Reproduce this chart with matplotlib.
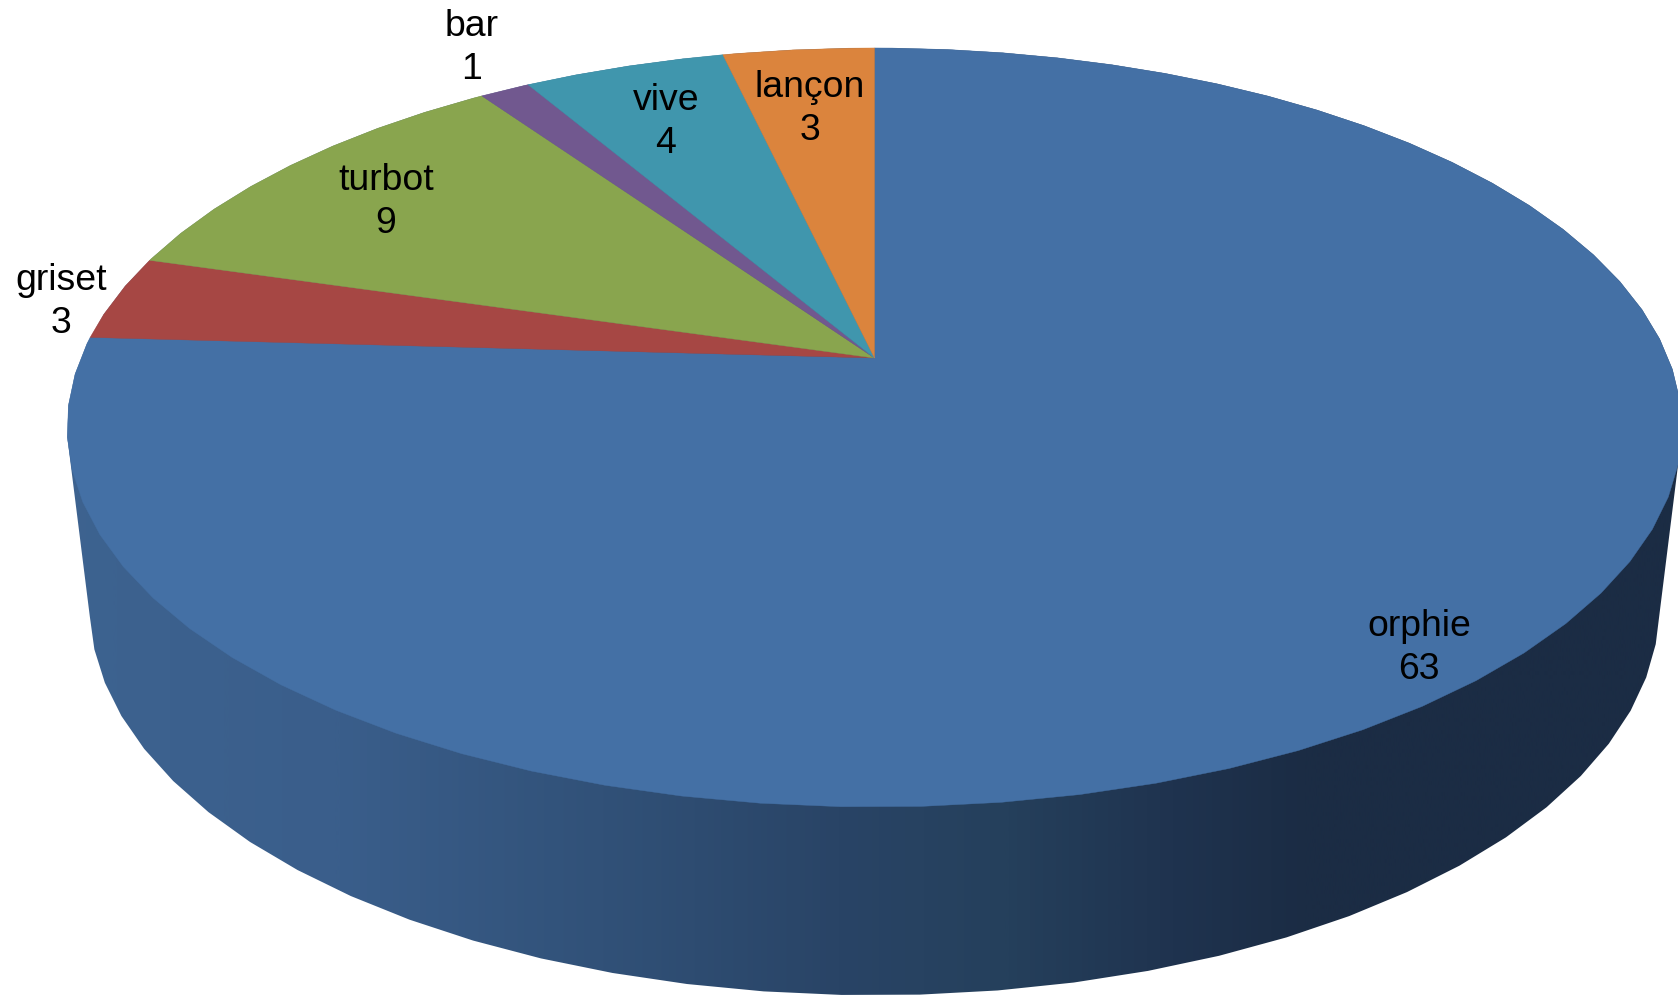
import numpy as np
import matplotlib
matplotlib.use("Agg")
import matplotlib.pyplot as plt
from matplotlib.patches import Polygon
from matplotlib.colors import LinearSegmentedColormap

plt.rcParams['font.family'] = ['Liberation Sans', 'DejaVu Sans']

# data
categories = ['orphie', 'griset', 'turbot', 'bar', 'vive', 'lançon']
values = [63, 3, 9, 1, 4, 3]
colors = ['#4470A5', '#A64744', '#89A54E', '#71588F', '#4096AD', '#DB843D']
label_x = [1419, 61, 386, 472, 666, 810]
label_y = [648, 302, 202, 48, 122, 109]

W, H = 1678, 997
fig = plt.figure(figsize=(W / 100, H / 100), dpi=100)
ax = fig.add_axes([0, 0, 1, 1])
ax.set_xlim(0, W)
ax.set_ylim(H, 0)
ax.axis('off')

CX, TOP_Y, BOT_Y = 874.5, 358.0, 535.0
K = 0.1831
A_TOP, B_TOP = 793.8, 366.8
A_BOT, B_BOT = 771.7, 376.0
STEP = 4.75


def project(theta, cy, a, b):
    t = np.radians(theta)
    sx, sy = np.sin(t), np.cos(t)
    w = 1 + K * sy
    return np.column_stack([CX + a * sx / w, cy - b * sy / w])


def hull(pts):
    p = sorted(map(tuple, pts))
    def half(seq):
        out = []
        for q in seq:
            while len(out) > 1 and ((out[-1][0]-out[-2][0])*(q[1]-out[-2][1])
                                    - (out[-1][1]-out[-2][1])*(q[0]-out[-2][0])) <= 0:
                out.pop()
            out.append(q)
        return out[:-1]
    return np.array(half(p) + half(p[::-1]))


facets = np.arange(182.0 % STEP, 360, STEP)

# side wall with horizontal gradient, clipped to the silhouette
wall = hull(np.vstack([project(facets, TOP_Y, A_TOP, B_TOP),
                       project(facets, BOT_Y, A_BOT, B_BOT)]))
stops = [(0.0, '#3E6491'), (0.2, '#3A5E8B'), (0.36, '#315178'), (0.5, '#294466'),
         (0.6, '#25405C'), (0.7, '#1F334F'), (0.78, '#1B2C44'), (1.0, '#1B2C44')]
cmap = LinearSegmentedColormap.from_list('wall', stops)
grad = np.linspace(0, 1, 1024)[None, :]
im = ax.imshow(grad, cmap=cmap, extent=[0, W, H, 0], aspect='auto', zorder=1,
               interpolation='bilinear')
clip = Polygon(wall, closed=True, transform=ax.transData, fc='none', ec='none')
ax.add_patch(clip)
im.set_clip_path(clip)
ax.set_xlim(0, W)
ax.set_ylim(H, 0)

# top surface
edges = np.concatenate([[0], np.cumsum(values)]) / sum(values) * 360
for i in range(len(values)):
    start, end = edges[i], edges[i + 1]
    inner = facets[(facets > start) & (facets < end)]
    arc = project(np.concatenate([[start], inner, [end]]), TOP_Y, A_TOP, B_TOP)
    ax.fill(np.r_[CX, arc[:, 0]], np.r_[TOP_Y, arc[:, 1]], color=colors[i],
            lw=0.3, zorder=2)

# labels
for name, v, x, y in zip(categories, values, label_x, label_y):
    ax.text(x, y, f'{name}\n{v}', ha='center', va='center', multialignment='center',
            fontsize=26.9, color='black', linespacing=1.27, zorder=3)

fig.savefig('out.png', dpi=100)
